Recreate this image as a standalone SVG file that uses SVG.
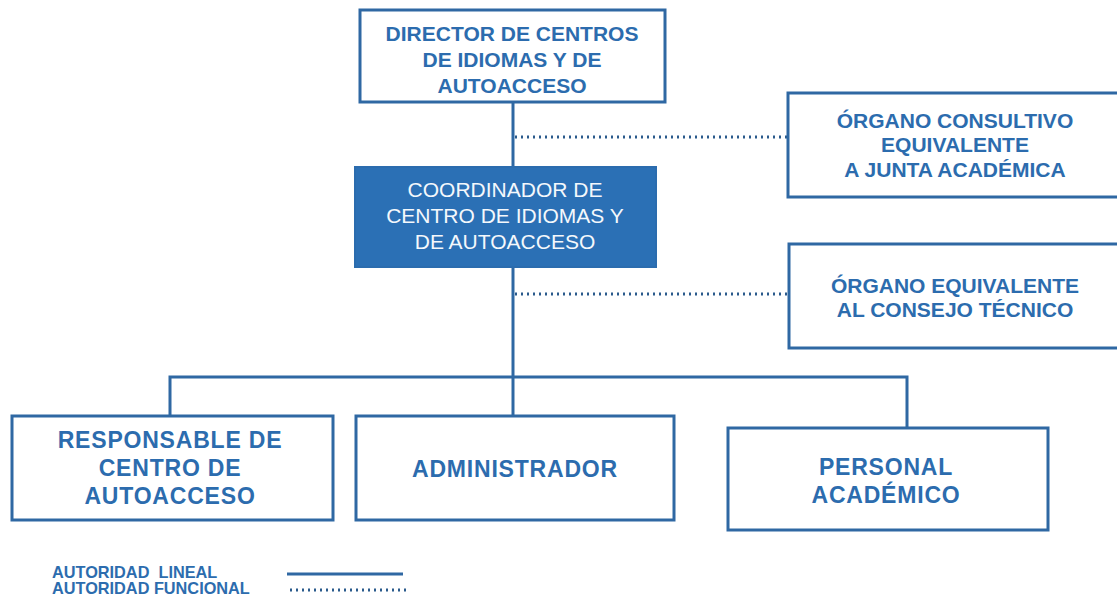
<svg xmlns="http://www.w3.org/2000/svg" width="1117" height="597" viewBox="0 0 1117 597">
<style>
.box{fill:#ffffff;stroke:#2f68a3;stroke-width:3}
.boxf{fill:#2b70b5;stroke:#2b6cae;stroke-width:2}
.t{font-family:"Liberation Sans",Arial,sans-serif;font-weight:bold;fill:#2c6cae;text-anchor:middle;font-size:21px}
.tw{font-family:"Liberation Sans",Arial,sans-serif;fill:#f4f8fc;text-anchor:middle;font-size:21px}
.tb{font-family:"Liberation Sans",Arial,sans-serif;font-weight:bold;fill:#2c6cae;text-anchor:middle;font-size:23px;letter-spacing:0.8px}
.lg{font-family:"Liberation Sans",Arial,sans-serif;font-weight:bold;fill:#2c6cae;font-size:16.3px;white-space:pre}
.ln{fill:none;stroke:#2f68a3;stroke-width:3}
.dt{fill:none;stroke:#2a5a8c;stroke-width:3;stroke-dasharray:2 4}
</style>
<g id="connectors">
<line class="ln" x1="513" y1="102" x2="513" y2="167"/>
<line class="ln" x1="513" y1="267" x2="513" y2="378"/>
<polyline class="ln" points="170,416 170,377 907,377 907,428"/>
<line class="ln" x1="513" y1="377" x2="513" y2="416"/>
<line class="dt" x1="515" y1="137" x2="787" y2="137"/>
<line class="dt" x1="515" y1="294" x2="788" y2="294"/>
</g>
<g id="director">
<rect class="box" x="360" y="10" width="305" height="92"/>
<text class="t" x="512" y="41">DIRECTOR DE CENTROS</text>
<text class="t" x="512" y="67">DE IDIOMAS Y DE</text>
<text class="t" x="512" y="93">AUTOACCESO</text>
</g>
<g id="coordinador">
<rect class="boxf" x="355" y="167" width="301" height="100"/>
<text class="tw" x="505" y="197">COORDINADOR DE</text>
<text class="tw" x="505" y="223">CENTRO DE IDIOMAS Y</text>
<text class="tw" x="505" y="249">DE AUTOACCESO</text>
</g>
<g id="organo-consultivo">
<rect class="box" x="788" y="93" width="340" height="104"/>
<text class="t" x="955" y="128">ÓRGANO CONSULTIVO</text>
<text class="t" x="955" y="152">EQUIVALENTE</text>
<text class="t" x="955" y="177">A JUNTA ACADÉMICA</text>
</g>
<g id="organo-equivalente">
<rect class="box" x="789" y="244" width="340" height="104"/>
<text class="t" x="955" y="293">ÓRGANO EQUIVALENTE</text>
<text class="t" x="955" y="317">AL CONSEJO TÉCNICO</text>
</g>
<g id="responsable">
<rect class="box" x="12" y="416" width="321" height="104"/>
<text class="tb" x="170" y="448">RESPONSABLE DE</text>
<text class="tb" x="170" y="476">CENTRO DE</text>
<text class="tb" x="170" y="504">AUTOACCESO</text>
</g>
<g id="administrador">
<rect class="box" x="356" y="416" width="318" height="104"/>
<text class="tb" x="515" y="477">ADMINISTRADOR</text>
</g>
<g id="personal">
<rect class="box" x="728" y="428" width="320" height="102"/>
<text class="tb" x="886" y="475">PERSONAL</text>
<text class="tb" x="886" y="503">ACADÉMICO</text>
</g>
<g id="legend">
<text class="lg" x="52" y="578" xml:space="preserve">AUTORIDAD  LINEAL</text>
<text class="lg" x="52" y="594">AUTORIDAD FUNCIONAL</text>
<line class="ln" x1="287" y1="574" x2="403" y2="574" stroke-width="4"/>
<line class="dt" x1="290" y1="590" x2="408" y2="590"/>
</g>
</svg>
